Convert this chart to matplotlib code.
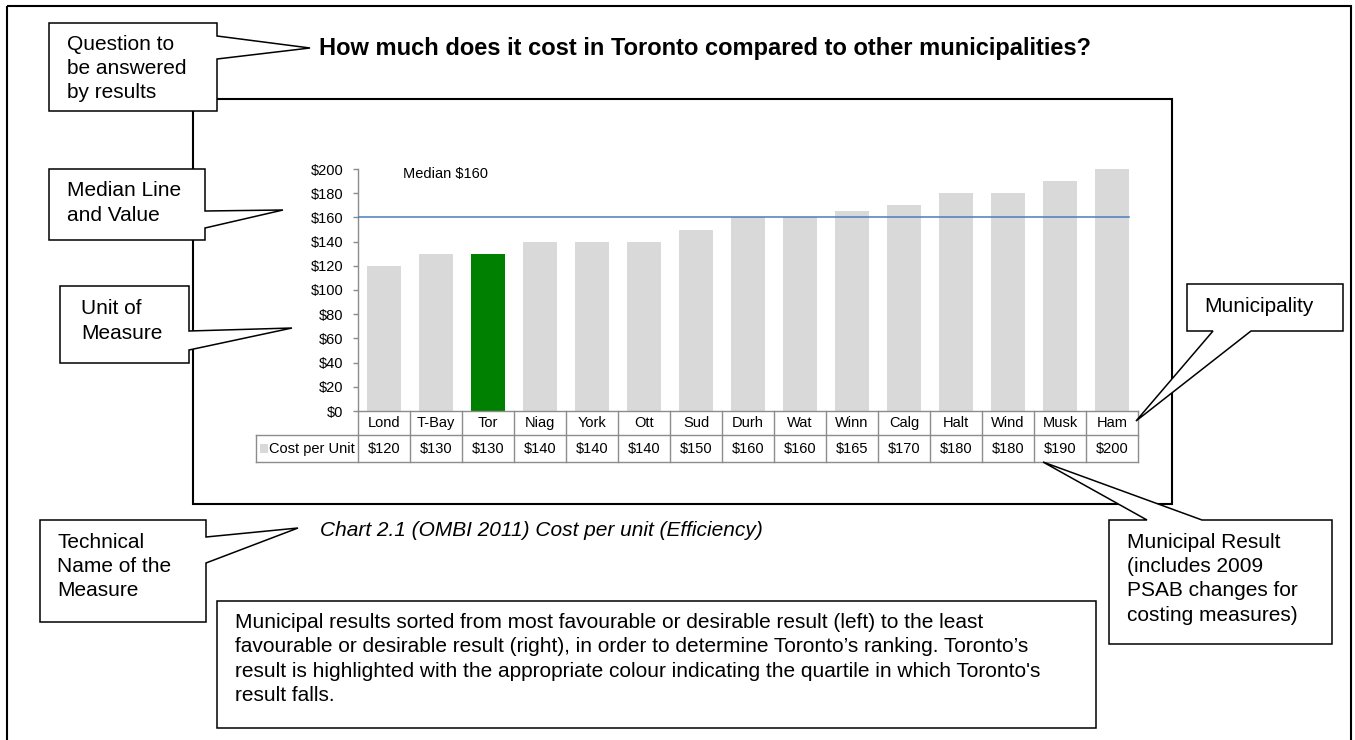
import numpy as np
import matplotlib
matplotlib.use('Agg')
import matplotlib.pyplot as plt
import matplotlib.patches as mpatches
from matplotlib import font_manager
from matplotlib.transforms import blended_transform_factory

# Cost per unit by municipality, sorted low to high
municipalities = ['Lond', 'T-Bay', 'Tor', 'Niag', 'York', 'Ott', 'Sud', 'Durh',
                  'Wat', 'Winn', 'Calg', 'Halt', 'Wind', 'Musk', 'Ham']
costs = [120, 130, 130, 140, 140, 140, 150, 160, 160, 165, 170, 180, 180, 190, 200]
highlight = 'Tor'
y_ticks = list(range(0, 201, 20))
series_name = 'Cost per Unit'

title = 'How much does it cost in Toronto compared to other municipalities?'
caption = 'Chart 2.1 (OMBI 2011) Cost per unit (Efficiency)'
question_lines = ['Question to', 'be answered', 'by results']
median_lines = ['Median Line', 'and Value']
unit_lines = ['Unit of', 'Measure']
technical_lines = ['Technical', 'Name of the', 'Measure']
municipality_lines = ['Municipality']
result_lines = ['Municipal Result', '(includes 2009', 'PSAB changes for', 'costing measures)']
note_lines = [
    'Municipal results sorted from most favourable or desirable result (left) to the least',
    'favourable or desirable result (right), in order to determine Toronto\u2019s ranking. Toronto\u2019s',
    'result is highlighted with the appropriate colour indicating the quartile in which Toronto\'s',
    'result falls.',
]

BAR_GREY = '#d9d9d9'
TOR_GREEN = '#008000'
LINE_GREY = '#8c8c8c'
MEDIAN_BLUE = '#4a7ebb'

plt.rcParams['font.family'] = ['Liberation Sans', 'DejaVu Sans']
installed = {f.name for f in font_manager.fontManager.ttflist}
if 'Liberation Sans Narrow' in installed:
    chart_font, chart_size = 'Liberation Sans Narrow', 12
else:
    chart_font, chart_size = 'Liberation Sans', 10.5

W, H = 1355, 740
fig = plt.figure(figsize=(W / 100, H / 100), dpi=100)

# page layer in pixel units, y pointing down
bg = fig.add_axes([0, 0, 1, 1])
bg.set_xlim(0, W)
bg.set_ylim(H, 0)
bg.set_autoscale_on(False)
bg.axis('off')

bg.add_patch(mpatches.Rectangle((7, 6), 1344, 740, fc='none', ec='black', lw=1.5))
bg.add_patch(mpatches.Rectangle((193, 99), 979, 405, fc='none', ec='black', lw=1.5))


def callout(pts, lines, x, y0, step=24.5):
    bg.add_patch(mpatches.Polygon(pts, closed=True, fc='white', ec='black',
                                  lw=1.1, joinstyle='miter', zorder=3))
    for i, s in enumerate(lines):
        bg.text(x, y0 + i * step, s, fontsize=15, ha='left', va='center', zorder=4)


callout([(49, 23), (217, 23), (217, 36), (310, 48), (217, 59), (217, 111), (49, 111)],
        question_lines, 67, 44)
callout([(49, 169), (205, 169), (205, 211), (283, 210), (205, 228), (205, 240), (49, 240)],
        median_lines, 67, 191)
callout([(60, 286), (189, 286), (189, 331), (292, 328), (189, 350), (189, 363), (60, 363)],
        unit_lines, 81, 309)
callout([(40, 520), (206, 520), (206, 537), (298, 528), (206, 563), (206, 622), (40, 622)],
        technical_lines, 57, 542)
callout([(1187, 284), (1343, 284), (1343, 331), (1251, 331), (1136, 421), (1213, 331), (1187, 331)],
        municipality_lines, 1204, 306)
callout([(1109, 520), (1147, 520), (1043, 462), (1202, 520), (1332, 520), (1332, 644), (1109, 644)],
        result_lines, 1127, 542)
callout([(217, 601), (1096, 601), (1096, 728), (217, 728)], note_lines, 235, 622, step=24.6)

bg.text(319, 48, title, fontsize=17, fontweight='bold', ha='left', va='center')
bg.text(320, 530, caption, fontsize=15, fontstyle='italic', ha='left', va='center')

# bar chart
ax = fig.add_axes([358 / W, 1 - 411 / H, 780 / W, 242 / H])
ax.patch.set_visible(False)
x = np.arange(len(municipalities))
colors = [TOR_GREEN if m == highlight else BAR_GREY for m in municipalities]
ax.bar(x, costs, width=0.67, color=colors, zorder=2)
ax.set_xlim(-0.5, len(municipalities) - 0.5)
ax.set_ylim(0, 200)
ax.set_yticks(y_ticks)
ax.set_yticklabels([f'${v}' for v in y_ticks], fontfamily=chart_font, fontsize=chart_size)
ax.set_xticks([])
ax.tick_params(axis='y', length=3.6, width=1, color=LINE_GREY, pad=7)
for side in ('top', 'right'):
    ax.spines[side].set_visible(False)
for side in ('left', 'bottom'):
    ax.spines[side].set_color(LINE_GREY)
    ax.spines[side].set_linewidth(1)

median = float(np.median(costs))
ax.axhline(median, xmin=0, xmax=0.988, color=MEDIAN_BLUE, lw=1.1, zorder=3)
ax.text(0.365, 196, f'Median ${median:.0f}', fontfamily=chart_font, fontsize=chart_size,
        ha='left', va='center')

# data table under the bars: x in categories, y in page pixels
trans = blended_transform_factory(ax.transData, bg.transData)
n = len(municipalities)
label_left = -0.5 - 1.96
row_top, row_mid, row_bot = 411, 435, 462
for yy in (row_mid, row_bot):
    bg.plot([label_left, n - 0.5], [yy, yy], transform=trans, color=LINE_GREY, lw=1)
bg.plot([label_left, label_left], [row_mid, row_bot], transform=trans, color=LINE_GREY, lw=1)
for k in range(n + 1):
    bg.plot([k - 0.5, k - 0.5], [row_top, row_bot], transform=trans, color=LINE_GREY, lw=1)
for i, (m, v) in enumerate(zip(municipalities, costs)):
    bg.text(i, (row_top + row_mid) / 2, m, transform=trans, fontfamily=chart_font,
            fontsize=chart_size, ha='center', va='center')
    bg.text(i, (row_mid + row_bot) / 2, f'${v}', transform=trans, fontfamily=chart_font,
            fontsize=chart_size, ha='center', va='center')
bg.add_patch(mpatches.Rectangle((label_left + 0.08, 444), 0.14, 9, transform=trans,
                                fc=BAR_GREY, ec='none'))
bg.text(label_left + 0.24, (row_mid + row_bot) / 2, series_name, transform=trans,
        fontfamily=chart_font, fontsize=chart_size, ha='left', va='center')

fig.savefig('out.png', dpi=100, facecolor='white')
